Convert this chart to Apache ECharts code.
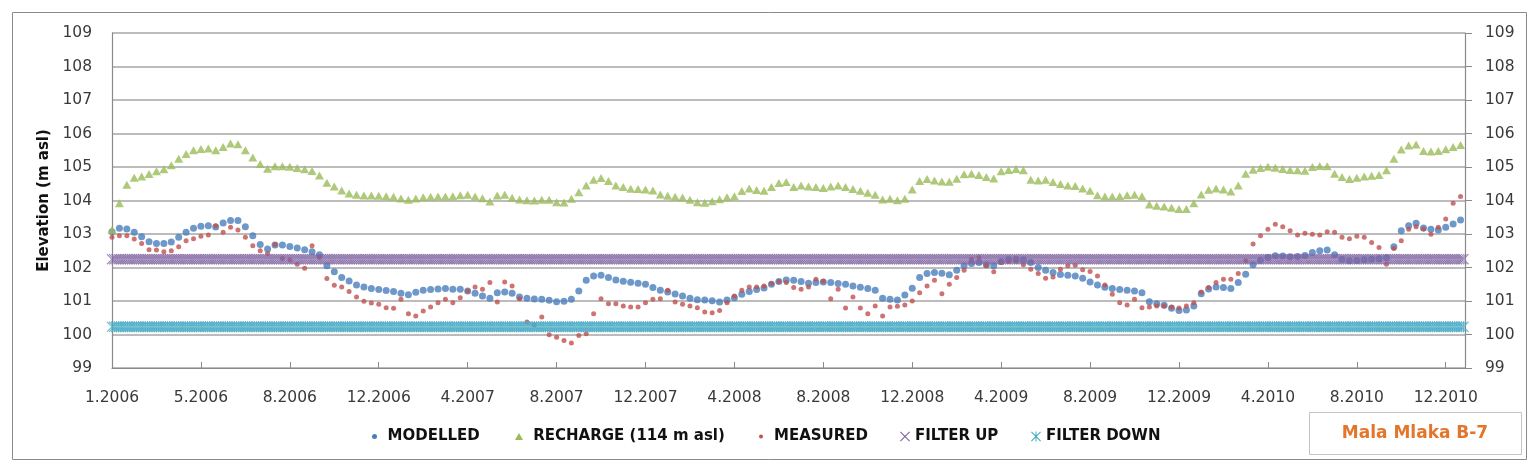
<!DOCTYPE html>
<html><head><meta charset="utf-8">
<script src="https://cdn.jsdelivr.net/npm/echarts@6/dist/echarts.min.js"></script>
<style>html,body{margin:0;padding:0;background:#fff}#c{width:1538px;height:470px}</style>
</head><body><div id="c"></div>
<script>
// Sampling: one value every 10 days starting 1.1.2006
const DAY_STEP = 10;
const X_MAX_DAYS = 1826;       // 1.1.2011
const X_TICK_STEP = 120;       // Excel major unit (days)
const X_TICK_LABELS = ['1.2006','5.2006','8.2006','12.2006','4.2007','8.2007','12.2007','4.2008',
  '8.2008','12.2008','4.2009','8.2009','12.2009','4.2010','8.2010','12.2010'];
const Y_MIN = 99, Y_MAX = 109, Y_STEP = 1;

const MODELLED = [
103.07,103.17,103.15,103.05,102.92,102.77,102.72,102.72,102.76,102.90,
103.05,103.17,103.23,103.25,103.21,103.33,103.40,103.40,103.22,102.95,
102.69,102.55,102.67,102.67,102.63,102.58,102.53,102.47,102.38,102.05,
101.87,101.70,101.60,101.48,101.42,101.37,101.34,101.31,101.28,101.23,
101.19,101.26,101.32,101.34,101.36,101.37,101.35,101.35,101.30,101.23,
101.15,101.08,101.25,101.27,101.23,101.12,101.08,101.06,101.05,101.02,
100.98,100.99,101.05,101.30,101.62,101.75,101.77,101.70,101.63,101.59,
101.56,101.53,101.50,101.40,101.32,101.27,101.21,101.15,101.08,101.04,
101.03,101.01,100.97,101.03,101.10,101.20,101.28,101.34,101.39,101.50,
101.58,101.63,101.62,101.58,101.53,101.55,101.57,101.55,101.52,101.50,
101.45,101.41,101.37,101.32,101.08,101.05,101.03,101.18,101.38,101.70,
101.82,101.85,101.83,101.78,101.92,102.05,102.12,102.15,102.08,102.05,
102.18,102.24,102.25,102.23,102.15,102.00,101.92,101.85,101.79,101.77,
101.75,101.68,101.57,101.48,101.41,101.37,101.34,101.32,101.30,101.25,
100.98,100.92,100.87,100.78,100.72,100.73,100.85,101.22,101.36,101.42,
101.40,101.37,101.55,101.80,102.08,102.22,102.30,102.35,102.34,102.32,
102.33,102.36,102.45,102.50,102.52,102.38,102.24,102.20,102.21,102.23,
102.25,102.26,102.29,102.62,103.10,103.25,103.32,103.18,103.14,103.12,
103.20,103.30,103.42];

const RECHARGE = [
103.12,103.92,104.47,104.68,104.72,104.79,104.87,104.93,105.05,105.25,
105.39,105.50,105.54,105.55,105.50,105.60,105.70,105.68,105.50,105.28,
105.09,104.95,105.02,105.02,105.01,104.97,104.93,104.88,104.75,104.53,
104.42,104.30,104.21,104.17,104.15,104.15,104.14,104.13,104.11,104.06,
104.02,104.06,104.10,104.11,104.12,104.12,104.13,104.16,104.17,104.12,
104.07,103.97,104.15,104.17,104.08,104.03,104.01,104.00,104.02,104.02,
103.95,103.94,104.05,104.25,104.45,104.62,104.67,104.58,104.45,104.40,
104.35,104.34,104.33,104.30,104.18,104.14,104.11,104.09,104.02,103.95,
103.93,103.98,104.04,104.10,104.13,104.28,104.36,104.31,104.29,104.40,
104.52,104.55,104.40,104.45,104.42,104.40,104.37,104.42,104.45,104.40,
104.34,104.29,104.23,104.17,104.03,104.05,104.01,104.05,104.33,104.58,
104.64,104.60,104.57,104.56,104.65,104.78,104.80,104.76,104.70,104.66,
104.87,104.91,104.94,104.90,104.62,104.60,104.62,104.55,104.49,104.45,
104.43,104.36,104.29,104.16,104.12,104.12,104.13,104.16,104.17,104.13,
103.88,103.84,103.82,103.78,103.75,103.75,103.92,104.18,104.32,104.36,
104.33,104.27,104.45,104.80,104.92,104.97,105.01,104.98,104.94,104.91,
104.90,104.89,105.00,105.03,105.02,104.80,104.70,104.64,104.68,104.72,
104.74,104.76,104.90,105.25,105.52,105.64,105.67,105.48,105.46,105.48,
105.53,105.60,105.66];

const MEASURED = [
102.90,102.95,102.95,102.85,102.72,102.53,102.52,102.47,102.50,102.62,
102.80,102.86,102.93,102.97,103.25,103.05,103.20,103.12,102.90,102.65,
102.50,102.42,102.69,102.27,102.23,102.10,101.98,102.65,102.30,101.67,
101.47,101.42,101.28,101.12,100.99,100.94,100.90,100.80,100.78,101.05,
100.62,100.55,100.70,100.82,100.95,101.05,100.95,101.10,101.30,101.42,
101.35,101.55,100.97,101.57,101.45,101.07,100.37,100.28,100.52,99.99,
99.92,99.82,99.75,99.97,100.02,100.62,101.07,100.92,100.92,100.85,
100.82,100.82,100.95,101.05,101.07,101.32,100.97,100.90,100.85,100.80,
100.67,100.65,100.72,100.95,101.15,101.32,101.42,101.42,101.45,101.52,
101.58,101.55,101.40,101.35,101.42,101.65,101.59,101.07,101.35,100.79,
101.12,100.79,100.62,100.85,100.55,100.82,100.84,100.88,101.00,101.25,
101.45,101.62,101.22,101.50,101.70,101.92,102.25,102.30,102.05,101.87,
102.15,102.18,102.19,102.08,101.95,101.82,101.68,101.72,101.95,102.05,
102.07,101.93,101.88,101.75,101.48,101.20,100.95,100.88,101.05,100.80,
100.82,100.85,100.85,100.82,100.79,100.85,100.95,101.27,101.40,101.55,
101.65,101.65,101.82,102.20,102.70,102.95,103.14,103.29,103.22,103.10,
102.97,103.02,102.99,102.97,103.07,103.05,102.90,102.86,102.93,102.90,
102.75,102.60,102.10,102.57,102.80,103.14,103.22,103.15,102.99,103.20,
103.45,103.92,104.12];

const FILTER_UP_LEVEL = 102.25;
const FILTER_DOWN_LEVEL = 100.23;
const FILTER_DAY_STEP = 3;

const SERIES_NAMES = ['MODELLED','RECHARGE (114 m asl)','MEASURED','FILTER UP','FILTER DOWN'];
const COLORS = ['#4A7EBB','#9BBB59','#C0504D','#8064A2','#4BACC6'];

const toPairs = arr => arr.map((v, i) => [i * DAY_STEP, v]);
const filterPairs = level => {
  const out = [];
  for (let d = 0; d <= X_MAX_DAYS; d += FILTER_DAY_STEP) out.push([d, level]);
  return out;
};

const X_SYM = 'path://M0,0.8L0.8,0L5,4.2L9.2,0L10,0.8L5.8,5L10,9.2L9.2,10L5,5.8L0.8,10L0,9.2L4.2,5Z';
const AST_SYM = 'path://M0,0.8L0.8,0L5,4.2L9.2,0L10,0.8L5.8,5L10,9.2L9.2,10L5,5.8L0.8,10L0,9.2L4.2,5Z M4.5,0L5.5,0L5.5,10L4.5,10Z';

const chart = echarts.init(document.getElementById('c'), null, {renderer: 'canvas'});
const FONT = 'DejaVu Sans';
const legendBase = (name, icon, left, w, h, label, color) => ({
  data: [{name: name, icon: icon, itemStyle: {color: color, opacity: 1}}],
  left: left, top: 429, itemWidth: w, itemHeight: h, padding: 0,
  selectedMode: false,
  formatter: () => label,
  textStyle: {fontFamily: FONT, fontWeight: 'bold', fontSize: 15, color: '#111'}
});

chart.setOption({
  animation: false,
  backgroundColor: '#fff',
  color: COLORS,
  grid: {left: 112, right: 73, top: 33, bottom: 102, containLabel: false},
  legend: [
    legendBase(SERIES_NAMES[0], 'circle', 372, 16, 5, 'MODELLED', COLORS[0]),
    legendBase(SERIES_NAMES[1], 'triangle', 515, 8, 7, ' RECHARGE (114 m asl)', COLORS[1]),
    legendBase(SERIES_NAMES[2], 'circle', 759, 16, 4, 'MEASURED', COLORS[2]),
    legendBase(SERIES_NAMES[3], X_SYM, 900, 10, 10, 'FILTER UP', COLORS[3]),
    legendBase(SERIES_NAMES[4], AST_SYM, 1031, 10, 10, 'FILTER DOWN', COLORS[4])
  ],
  xAxis: {
    type: 'value', min: 0, max: X_MAX_DAYS, interval: X_TICK_STEP,
    axisLine: {show: true, onZero: false, lineStyle: {color: '#8a8a8a', width: 1.2}},
    axisTick: {show: true, inside: true, length: 6, lineStyle: {color: '#8a8a8a'}},
    splitLine: {show: false},
    axisLabel: {
      margin: 22, color: '#3a3a3a', fontFamily: FONT, fontSize: 15.5,
      formatter: v => (v % X_TICK_STEP === 0 && X_TICK_LABELS[v / X_TICK_STEP]) || '',
      showMaxLabel: false
    }
  },
  yAxis: [{
    type: 'value', min: Y_MIN, max: Y_MAX, interval: Y_STEP, position: 'left',
    name: 'Elevation (m asl)', nameLocation: 'middle', nameGap: 60, nameRotate: 90,
    nameTextStyle: {fontFamily: FONT, fontWeight: 'bold', fontSize: 15, color: '#111'},
    axisLine: {show: true, lineStyle: {color: '#8a8a8a', width: 1.2}},
    axisTick: {show: false},
    splitLine: {show: true, lineStyle: {color: '#a6a6a6', width: 1.5}},
    axisLabel: {margin: 20, color: '#3a3a3a', fontFamily: FONT, fontSize: 15.5}
  }, {
    type: 'value', min: Y_MIN, max: Y_MAX, interval: Y_STEP, position: 'right',
    axisLine: {show: true, lineStyle: {color: '#8a8a8a', width: 1.2}},
    axisTick: {show: true, length: 7, lineStyle: {color: '#8a8a8a'}},
    splitLine: {show: false},
    axisLabel: {margin: 20, color: '#3a3a3a', fontFamily: FONT, fontSize: 15.5}
  }],
  series: [
    {name: SERIES_NAMES[0], type: 'scatter', data: toPairs(MODELLED), symbol: 'circle', symbolSize: 7,
     itemStyle: {color: COLORS[0]}},
    {name: SERIES_NAMES[1], type: 'scatter', data: toPairs(RECHARGE), symbol: 'triangle', symbolSize: [9, 8],
     itemStyle: {color: COLORS[1]}},
    {name: SERIES_NAMES[2], type: 'scatter', data: toPairs(MEASURED), symbol: 'circle', symbolSize: 5,
     itemStyle: {color: COLORS[2]}},
    {name: SERIES_NAMES[3], type: 'scatter', data: filterPairs(FILTER_UP_LEVEL), symbol: X_SYM, symbolSize: 11,
     itemStyle: {color: COLORS[3], opacity: 0.7}},
    {name: SERIES_NAMES[4], type: 'scatter', data: filterPairs(FILTER_DOWN_LEVEL), symbol: AST_SYM, symbolSize: 11,
     itemStyle: {color: COLORS[4], opacity: 0.75}}
  ],
  graphic: [
    {type: 'rect', shape: {x: 12.5, y: 12.5, width: 1514, height: 447}, silent: true,
     style: {fill: 'none', stroke: '#8a8a8a', lineWidth: 1}},
    {type: 'rect', shape: {x: 1309.5, y: 412.5, width: 212, height: 42}, silent: true,
     style: {fill: '#fff', stroke: '#c4c4c4', lineWidth: 1}},
    {type: 'text', x: 1415, y: 434, silent: true,
     style: {text: 'Mala Mlaka B-7', fill: '#E3762B', font: 'bold 17px "DejaVu Sans"', align: 'center', verticalAlign: 'middle'}}
  ]
});
</script>
</body></html>
